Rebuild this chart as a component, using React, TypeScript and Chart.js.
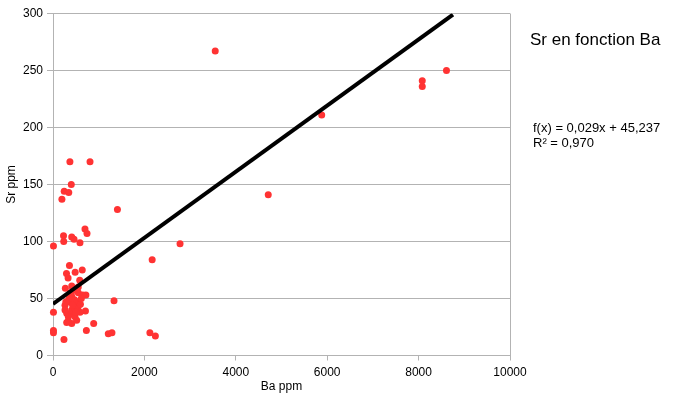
import React, { useEffect, useRef } from "react";
import { Chart, registerables } from "chart.js";

Chart.register(...registerables);

// Ba ppm (x) and Sr ppm (y) for each sample
const baValues = [
  3550, 8610, 8080, 8080, 5880, 4710, 2780, 2170, 1410, 1335, 1210, 1290, 2120, 2240,
  370, 810, 400, 245, 345, 195,
  230, 235, 410, 460, 590, 700, 744, 10,
  360, 295, 330, 485, 640, 585, 270, 410,
  720, 710, 10, 10, 10, 240, 730, 890, 300, 410,
  553, 649, 263, 518, 445, 335, 481, 553, 300, 409, 591, 263, 372, 481, 335, 518,
  409, 445, 553, 380, 470, 600, 430, 350, 500, 620, 280,
];
const srValues = [
  267, 250, 241, 236, 211, 141, 98, 84, 128, 48, 19, 20, 20, 17,
  170, 170, 150, 144, 143, 137,
  105, 100, 104, 102, 99, 111, 107, 96,
  79, 72, 68, 73, 75, 66, 59, 61,
  53, 39, 38, 22, 20, 14, 22, 28, 29, 28,
  55, 53, 44, 47, 36, 30, 34, 43, 37, 40, 38, 40, 47, 41, 34, 31,
  52, 57, 60, 55, 49, 45, 44, 50, 38, 50, 47,
];

// Linear trend shown on the chart
const trendSlope = 0.029;
const trendIntercept = 45.237;
const trendRangeX = [0, 8752];

const xTicks = [0, 2000, 4000, 6000, 8000, 10000];
const yTicks = [0, 50, 100, 150, 200, 250, 300];

const titleText = "Sr en fonction Ba";
const equationLines = ["f(x) = 0,029x + 45,237", "R² = 0,970"];

export default function App() {
  const canvasRef = useRef<HTMLCanvasElement | null>(null);

  useEffect(() => {
    document.body.style.margin = "0";
    const canvas = canvasRef.current;
    if (!canvas) return;

    const points = baValues.map((x, i) => ({ x, y: srValues[i] }));
    const trend = trendRangeX.map((x) => ({ x, y: trendSlope * x + trendIntercept }));

    const textPlugin = {
      id: "sideText",
      afterDraw(chart: any) {
        const ctx = chart.ctx;
        ctx.save();
        ctx.fillStyle = "#000";
        ctx.textBaseline = "alphabetic";
        ctx.textAlign = "left";
        ctx.font = '17px "Liberation Sans", Arial, sans-serif';
        ctx.fillText(titleText, 530, 45);
        ctx.font = '13px "Liberation Sans", Arial, sans-serif';
        equationLines.forEach((line, i) => {
          ctx.fillText(line, 533, 132 + i * 15);
        });
        ctx.restore();
      },
    };

    const font = { family: '"Liberation Sans", Arial, sans-serif', size: 12 };

    const chart = new Chart(canvas, {
      type: "scatter",
      data: {
        datasets: [
          {
            label: "Sr",
            data: points,
            backgroundColor: "#ff3333",
            borderColor: "#ff3333",
            pointRadius: 3.5,
            pointBorderWidth: 0,
            clip: 8,
            order: 2,
          } as any,
          {
            label: "trend",
            type: "line",
            data: trend,
            borderColor: "#000000",
            borderWidth: 4,
            pointRadius: 0,
            fill: false,
            order: 1,
          } as any,
        ],
      },
      options: {
        animation: false,
        responsive: false,
        maintainAspectRatio: false,
        layout: { padding: { left: 0, right: 177, top: 13.5, bottom: 0 } },
        plugins: {
          legend: { display: false },
          tooltip: { enabled: false },
        },
        scales: {
          x: {
            type: "linear",
            min: 0,
            max: 10000,
            afterBuildTicks: (axis: any) => {
              axis.ticks = xTicks.map((v) => ({ value: v }));
            },
            ticks: {
              color: "#000",
              font,
              padding: 5,
              maxRotation: 0,
              callback: (v: any) => String(v),
            },
            grid: {
              color: (c: any) =>
                c.tick && (c.tick.value === 0 || c.tick.value === 10000) ? "#b3b3b3" : "rgba(0,0,0,0)",
              tickColor: "#b3b3b3",
              tickLength: 5,
              lineWidth: 1,
            },
            border: { display: true, color: "#b3b3b3" },
            title: { display: true, text: "Ba ppm", color: "#000", font, padding: { top: 2, bottom: 2 } },
            afterFit: (axis: any) => {
              axis.height = 40.5;
            },
          },
          y: {
            type: "linear",
            min: 0,
            max: 300,
            afterBuildTicks: (axis: any) => {
              axis.ticks = yTicks.map((v) => ({ value: v }));
            },
            ticks: { color: "#000", font, padding: 4, callback: (v: any) => String(v) },
            grid: {
              color: "#b3b3b3",
              tickColor: "#b3b3b3",
              tickLength: 6,
              lineWidth: 1,
            },
            border: { display: true, color: "#b3b3b3" },
            title: { display: true, text: "Sr ppm", color: "#000", font, padding: { top: 4, bottom: 4 } },
            afterFit: (axis: any) => {
              axis.width = 53;
            },
          },
        },
      },
      plugins: [textPlugin],
    });

    return () => chart.destroy();
  }, []);

  return (
    <div style={{ position: "relative", width: 687, height: 396, background: "#fff" }}>
      <canvas ref={canvasRef} width={687} height={396} style={{ display: "block", width: 687, height: 396 }} />
    </div>
  );
}
